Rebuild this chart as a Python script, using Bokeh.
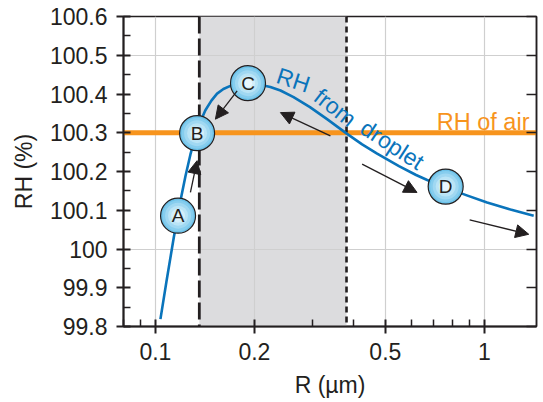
from bokeh.plotting import figure
from bokeh.embed import file_html
from bokeh.resources import INLINE
from bokeh.core.properties import value
from bokeh.models import (FixedTicker, NumeralTickFormatter, BoxAnnotation, Span, Arrow,
                          NormalHead, ColumnDataSource, LinearAxis, CustomJSTickFormatter)

# ---- data ----
R = [0.1036, 0.108, 0.1137, 0.1191, 0.1235, 0.1278, 0.1332, 0.138, 0.1419, 0.148, 0.154,
     0.161, 0.169, 0.18, 0.19, 0.20, 0.21, 0.2236, 0.24, 0.263, 0.295, 0.3325, 0.3825,
     0.425, 0.472, 0.55, 0.62, 0.67, 0.761, 0.88, 1.019, 1.2, 1.412]
RH = [99.819, 99.915, 100.029, 100.123, 100.189, 100.244, 100.300, 100.335, 100.358, 100.383, 100.401,
      100.413, 100.421, 100.425, 100.426, 100.425, 100.423, 100.418, 100.409, 100.392, 100.366, 100.335, 100.297,
      100.270, 100.246, 100.214, 100.191, 100.178, 100.159, 100.139, 100.120, 100.102, 100.086]

rh_air = 100.3
r_crit_low = 0.136
r_crit_high = 0.381

circ_R = [0.1172, 0.1339, 0.1912, 0.7626]
circ_RH = [100.086, 100.299, 100.428, 100.161]
circ_lab = ["A", "B", "C", "D"]

arrow_x0 = [0.1278, 0.1772, 0.3404, 0.4249, 0.902]
arrow_y0 = [100.146, 100.408, 100.292, 100.219, 100.075]
arrow_x1 = [0.1339, 0.1522, 0.2399, 0.624, 1.364]
arrow_y1 = [100.228, 100.335, 100.352, 100.146, 100.038]

curve_words = ["RH", "from", "droplet"]
word_R = [0.2627, 0.352, 0.525]
word_RH = [100.436, 100.365, 100.269]
word_angle = [-18, -38, -33]

air_label_R = 1.371
air_label_RH = 100.329

x_ticks = [0.1, 0.2, 0.5, 1]
x_minor = [0.08, 0.09, 0.3, 0.4, 0.6, 0.7, 0.8, 0.9]
y_ticks = [99.8, 99.9, 100.0, 100.1, 100.2, 100.3, 100.4, 100.5, 100.6]
y_minor = [99.85, 99.95, 100.05, 100.15, 100.25, 100.35, 100.45, 100.55]
y_grid = [100.0, 100.5]

FONT = "Liberation Sans"
DARK = "#231f20"
BLUE = "#0a74bb"
ORANGE = "#f7941d"

p = figure(width=543, height=402, x_axis_type="log", x_range=(0.08, 1.44), y_range=(99.8, 100.6),
           output_backend="svg", toolbar_location=None,
           min_border_left=123, min_border_right=7, min_border_top=16, min_border_bottom=76)
p.background_fill_color = "white"
p.border_fill_color = "white"
p.outline_line_color = DARK
p.outline_line_width = 1.5

# axes
xa = p.below[0]
ya = p.left[0]
xa.ticker = FixedTicker(ticks=x_ticks, minor_ticks=x_minor)
xa.formatter = NumeralTickFormatter(format="0.[0]")
ya.ticker = FixedTicker(ticks=y_ticks, minor_ticks=y_minor)
ya.formatter = NumeralTickFormatter(format="0.[0]")
for ax in (xa, ya):
    ax.axis_line_color = DARK
    ax.axis_line_width = 2
    ax.major_tick_line_color = DARK
    ax.major_tick_line_width = 2
    ax.minor_tick_line_color = DARK
    ax.minor_tick_line_width = 1.5
    ax.major_tick_in = 7
    ax.major_tick_out = 7
    ax.minor_tick_in = 7
    ax.minor_tick_out = 0
    ax.major_label_text_font = FONT
    ax.major_label_text_font_size = "23px"
    ax.major_label_text_color = DARK
    ax.axis_label_text_font = FONT
    ax.axis_label_text_font_size = "23px"
    ax.axis_label_text_font_style = "normal"
    ax.axis_label_text_color = DARK
xa.axis_label = "R (µm)"
ya.axis_label = "RH (%)"
xa.major_label_standoff = 9
ya.major_label_standoff = 9
xa.axis_label_standoff = 9
ya.axis_label_standoff = 10

ra = LinearAxis(ticker=FixedTicker(ticks=y_ticks, minor_ticks=[]),
                formatter=CustomJSTickFormatter(code="return ''"))
ra.axis_line_color = DARK
ra.axis_line_width = 1.5
ra.major_tick_in = 10
ra.major_tick_out = 0
ra.major_tick_line_color = DARK
ra.major_tick_line_width = 1.5
ra.minor_tick_line_color = None
p.add_layout(ra, "right")

# grid
p.xgrid.grid_line_color = "#cfcfcf"
p.xgrid.grid_line_width = 1.2
p.ygrid.ticker = FixedTicker(ticks=y_grid)
p.ygrid.grid_line_color = "#cfcfcf"
p.ygrid.grid_line_width = 1.2

# shaded region
p.add_layout(BoxAnnotation(left=r_crit_low, right=r_crit_high, fill_color="#dcdcde", fill_alpha=1,
                           line_color=None, level="image"))

# orange RH of air line and vertical lines
p.add_layout(Span(location=rh_air, dimension="width", line_color=ORANGE, line_width=5, level="underlay"))
p.add_layout(Span(location=r_crit_low, dimension="height", line_color=DARK, line_width=2.8,
                  line_dash="17 5", level="underlay"))
p.add_layout(Span(location=r_crit_high, dimension="height", line_color=DARK, line_width=2.6,
                  line_dash="6 4", level="underlay"))

# curve
p.line(R, RH, line_color=BLUE, line_width=2.6, line_join="round")

# arrows
asrc = ColumnDataSource(dict(x0=arrow_x0, y0=arrow_y0, x1=arrow_x1, y1=arrow_y1))
p.add_layout(Arrow(source=asrc, x_start="x0", y_start="y0", x_end="x1", y_end="y1",
                   line_color=DARK, line_width=1.3,
                   end=NormalHead(size=13, fill_color=DARK, line_color=DARK, line_width=1)))

# circles with radial-ish shading
shades = [(35, "#6cc2e9"), (31, "#86cdee"), (26, "#a0d8f2"), (20, "#bae4f6"), (14, "#d3eefa"), (8, "#eaf7fd")]
for i, (s, c) in enumerate(shades):
    if i == 0:
        p.scatter(circ_R, circ_RH, size=s, fill_color=c, line_color=DARK, line_width=1.2)
    else:
        p.scatter(circ_R, circ_RH, size=s, fill_color=c, line_color=None)
p.text(circ_R, circ_RH, text=circ_lab, text_font=value(FONT), text_font_size="19px",
       text_align="center", text_baseline="middle", text_color=DARK)

# text labels
p.text(word_R, word_RH, text=curve_words, angle=word_angle, angle_units="deg",
       text_font=value(FONT), text_font_size="23px", text_align="center", text_baseline="middle",
       text_color=BLUE)
p.text([air_label_R], [air_label_RH], text=["RH of air"], text_font=value(FONT), text_font_size="23.5px",
       text_align="right", text_baseline="alphabetic", text_color=ORANGE)

open("out.html", "w").write(file_html(p, INLINE))
